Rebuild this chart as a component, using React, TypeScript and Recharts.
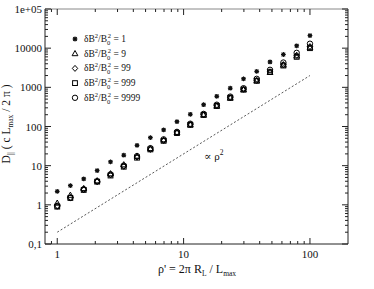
import React from "react";
import { ScatterChart, Scatter, XAxis, YAxis } from "recharts";

// ── data ─────────────────────────────────────────────────────────

const rho = [1, 1.27, 1.62, 2.07, 2.64, 3.36, 4.28, 5.46, 6.95, 8.86, 11.3, 14.4, 18.3, 23.4, 29.8, 37.9, 48.3, 61.6, 78.5, 100];

const dB1 = [2.2, 3.1, 4.6, 7.5, 12.5, 18.5, 33, 52, 82, 133, 205, 360, 590, 950, 1650, 2550, 4450, 6900, 11500, 21000];
const dB9 = [1.1, 1.75, 2.6, 4.1, 6.2, 10.5, 17.5, 27, 45, 70, 110, 195, 330, 530, 860, 1450, 2400, 3700, 6300, 10500];
const dB99 = [0.95, 1.55, 2.45, 3.9, 5.8, 9.6, 16.5, 26, 44, 69, 112, 200, 340, 545, 890, 1500, 2500, 3800, 6600, 11000];
const dB999 = [0.9, 1.5, 2.4, 3.9, 5.6, 9.4, 16, 26, 43, 68, 110, 198, 335, 540, 880, 1480, 2450, 3600, 6000, 10000];
const dB9999 = [0.92, 1.5, 2.5, 4.0, 6.0, 10, 17.5, 28, 47, 73, 118, 210, 360, 580, 950, 1650, 2800, 4300, 7600, 13000];

// ∝ ρ² guide line
const fitX = [1, 100];
const fitY = [0.2, 2000];

const legendLabels = ["1", "9", "99", "999", "9999"];

const xMajor = [1, 10, 100];
const xLabels = ["1", "10", "100"];
const yMajor = [0.1, 1, 10, 100, 1000, 10000, 100000];
const yLabels = ["0,1", "1", "10", "100", "1000", "10000", "1e+05"];

// minor ticks at 2..9 of each decade
const mults = [2, 3, 4, 5, 6, 7, 8, 9];
const xTicks = [0.9, ...[1, 10].flatMap((d) => [d, ...mults.map((m) => m * d)]), 100];
const yTicks = [...[0.1, 1, 10, 100, 1000, 10000].flatMap((d) => [d, ...mults.map((m) => m * d)]), 100000];

const W = 374;
const H = 289;
const FONT = "'Liberation Serif', 'DejaVu Serif', serif";
const INK = "#222";

const toPts = (ys: number[]) => rho.map((x, i) => ({ x, y: ys[i] }));
const fitData = fitX.map((x, i) => ({ x, y: fitY[i] }));

// ── markers ─────────────────────────────────────────────────────

function Marker({ kind, cx, cy }: { kind: string; cx: number; cy: number }) {
  const s = { fill: "none", stroke: "#000", strokeWidth: 1 };
  switch (kind) {
    case "star":
      return (
        <g stroke="#111" strokeWidth={1.1}>
          <line x1={cx - 2.4} y1={cy} x2={cx + 2.4} y2={cy} />
          <line x1={cx} y1={cy - 2.4} x2={cx} y2={cy + 2.4} />
          <line x1={cx - 1.8} y1={cy - 1.8} x2={cx + 1.8} y2={cy + 1.8} />
          <line x1={cx - 1.8} y1={cy + 1.8} x2={cx + 1.8} y2={cy - 1.8} />
          <circle cx={cx} cy={cy} r={1.3} fill="#111" />
        </g>
      );
    case "triangle":
      return <polygon points={`${cx},${cy - 3.2} ${cx - 2.9},${cy + 2} ${cx + 2.9},${cy + 2}`} {...s} />;
    case "diamond":
      return <polygon points={`${cx},${cy - 3} ${cx + 2.7},${cy} ${cx},${cy + 3} ${cx - 2.7},${cy}`} {...s} />;
    case "square":
      return <rect x={cx - 2.4} y={cy - 2.4} width={4.8} height={4.8} {...s} />;
    default:
      return <circle cx={cx} cy={cy} r={2.7} {...s} />;
  }
}

const shapeFor = (kind: string) => (p: any) => <Marker kind={kind} cx={p.cx} cy={p.cy} />;

// ── inward ticks ────────────────────────────────────────────────

function makeTick(side: "left" | "right" | "top" | "bottom", major: number[], labels?: string[]) {
  return (p: any) => {
    const v = p.payload.value;
    const mi = major.findIndex((m) => Math.abs(m - v) / m < 1e-6);
    const len = mi >= 0 ? 6 : 3;
    const { x, y } = p;
    let line;
    if (side === "left") line = <line x1={x} y1={y} x2={x + len} y2={y} />;
    else if (side === "right") line = <line x1={x} y1={y} x2={x - len} y2={y} />;
    else if (side === "top") line = <line x1={x} y1={y} x2={x} y2={y + len} />;
    else line = <line x1={x} y1={y} x2={x} y2={y - len} />;
    return (
      <g stroke={INK} strokeWidth={1}>
        {line}
        {labels && mi >= 0 && side === "left" && (
          <text x={x - 3} y={y + 4} textAnchor="end" fill="#111" stroke="none" fontSize={11} fontFamily={FONT}>
            {labels[mi]}
          </text>
        )}
        {labels && mi >= 0 && side === "bottom" && (
          <text x={x} y={y + 14} textAnchor="middle" fill="#111" stroke="none" fontSize={11} fontFamily={FONT}>
            {labels[mi]}
          </text>
        )}
      </g>
    );
  };
}

// ── legend + titles ─────────────────────────────────────────────

const kinds = ["star", "triangle", "diamond", "square", "circle"];

function Overlay() {
  return (
    <svg width={W} height={H} style={{ position: "absolute", left: 0, top: 0, pointerEvents: "none" }} fontFamily={FONT} fill="#111">
      {legendLabels.map((lab, i) => {
        const y = 39 + i * 14.7;
        return (
          <g key={lab}>
            <Marker kind={kinds[i]} cx={75} cy={y} />
            <text x={84} y={y + 3} fontSize={9.5}>
              δB<tspan dy={-4} fontSize={6.5}>2</tspan>
              <tspan dy={4}>/B</tspan>
              <tspan dy={3} fontSize={6.5}>0</tspan>
              <tspan dx={-2.5} dy={-7} fontSize={6.5}>2</tspan>
              <tspan dy={4}>{` = ${lab}`}</tspan>
            </text>
          </g>
        );
      })}
      <text x={204} y={160} fontSize={11}>
        ∝ ρ<tspan dy={-5} fontSize={7.5}>2</tspan>
      </text>
      <text transform="translate(10,124) rotate(-90)" textAnchor="middle" fontSize={11.5}>
        D<tspan dy={3} fontSize={7.5}>||</tspan>
        <tspan dy={-3}>{"  ( c L"}</tspan>
        <tspan dy={3} fontSize={7.5}>max</tspan>
        <tspan dy={-3}>{" / 2 π )"}</tspan>
      </text>
      <text x={197} y={273} textAnchor="middle" fontSize={12}>
        ρ' = 2π R<tspan dy={3} fontSize={7.5}>L</tspan>
        <tspan dy={-3}>{"  / L"}</tspan>
        <tspan dy={3} fontSize={7.5}>max</tspan>
      </text>
    </svg>
  );
}

export default function App() {
  const series = [dB1, dB9, dB99, dB999, dB9999];
  return (
    <div style={{ position: "absolute", left: 0, top: 0, width: W, height: H, background: "#fff", fontFamily: FONT }}>
      <ScatterChart width={W} height={H} margin={{ top: 0, right: 0, bottom: 0, left: 0 }}>
        <XAxis
          xAxisId="b"
          dataKey="x"
          type="number"
          scale="log"
          domain={[0.8, 200]}
          ticks={xTicks}
          interval={0}
          height={45}
          tickSize={0}
          tickMargin={0}
          axisLine={{ stroke: INK }}
          tick={makeTick("bottom", xMajor, xLabels)}
          allowDataOverflow
        />
        <XAxis
          xAxisId="t"
          dataKey="x"
          orientation="top"
          type="number"
          scale="log"
          domain={[0.8, 200]}
          ticks={xTicks}
          interval={0}
          height={9}
          tickSize={0}
          tickMargin={0}
          axisLine={{ stroke: "#888" }}
          tick={makeTick("top", xMajor)}
          allowDataOverflow
        />
        <YAxis
          yAxisId="l"
          dataKey="y"
          type="number"
          scale="log"
          domain={[0.1, 100000]}
          ticks={yTicks}
          interval={0}
          width={45}
          tickSize={0}
          tickMargin={0}
          axisLine={{ stroke: INK }}
          tick={makeTick("left", yMajor, yLabels)}
          allowDataOverflow
        />
        <YAxis
          yAxisId="r"
          dataKey="y"
          orientation="right"
          type="number"
          scale="log"
          domain={[0.1, 100000]}
          ticks={yTicks}
          interval={0}
          width={26}
          tickSize={0}
          tickMargin={0}
          axisLine={{ stroke: INK }}
          tick={makeTick("right", yMajor)}
          allowDataOverflow
        />
        <Scatter
          xAxisId="t"
          yAxisId="r"
          data={fitData}
          line={{ stroke: "#444", strokeWidth: 0.9, strokeDasharray: "2 2" }}
          lineType="joint"
          shape={() => <g />}
          isAnimationActive={false}
        />
        {series.map((ys, i) => (
          <Scatter
            key={i}
            xAxisId="b"
            yAxisId="l"
            data={toPts(ys)}
            shape={shapeFor(kinds[i])}
            isAnimationActive={false}
          />
        ))}
      </ScatterChart>
      <Overlay />
    </div>
  );
}
